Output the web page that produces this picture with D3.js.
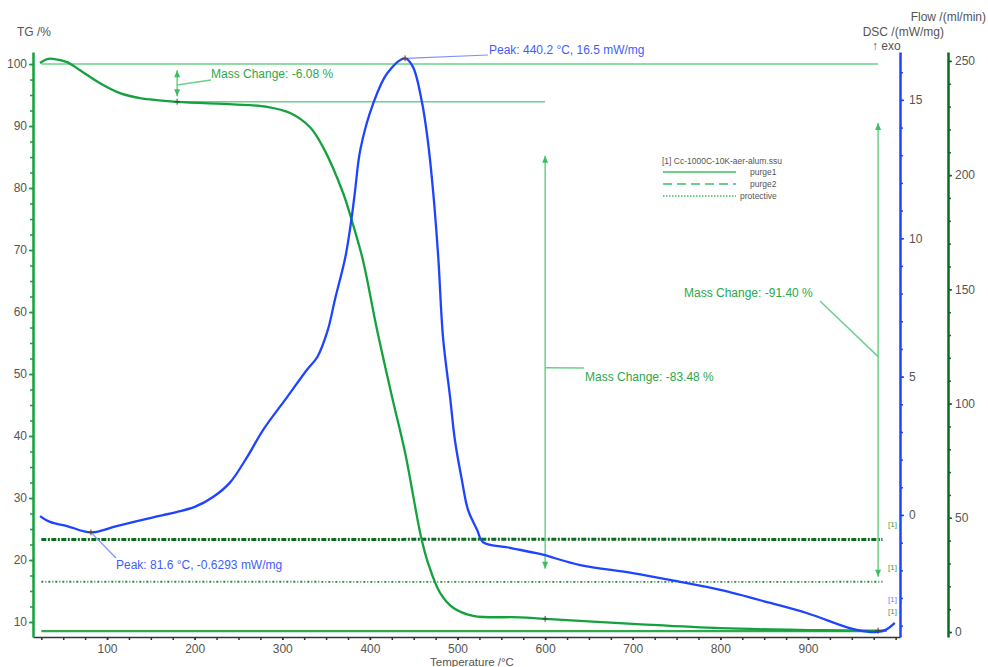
<!DOCTYPE html>
<html>
<head>
<meta charset="utf-8">
<script src="https://cdn.jsdelivr.net/npm/d3@7"></script>
<style>
  body { margin: 0; background: #fff; }
  svg { font-family: "Liberation Sans", Arial, sans-serif; }
  .tick text { fill: #555; font-size: 12px; }
</style>
</head>
<body>
<svg id="chart" width="988" height="667"></svg>
<script>
// TG curve (temperature °C, mass %)
const tgTemp = [23.5, 31.5, 40.6, 54.3, 69.2, 92, 114.8, 137.7, 180, 243.8, 282.6, 309, 331.7, 346.5, 369.4, 379.3, 392, 408.2, 425.3, 440.2, 458.4, 466.4, 480.1, 495, 517.8, 571.5, 600, 700, 800, 900, 971, 990];
const tgMass = [100.16, 100.8, 100.8, 100.3, 99.0, 96.9, 95.3, 94.5, 93.9, 93.5, 93.1, 92.1, 89.8, 86.6, 79.2, 74.8, 68.4, 57.1, 46.3, 37.3, 23.7, 19.5, 14.7, 12.3, 11.0, 10.75, 10.5, 9.7, 9.0, 8.7, 8.6, 8.6];

// DSC curve (mW/mg)
const dscTemp = [23.5, 34.9, 54.3, 81.6, 111, 149, 180, 200, 221, 240, 260, 278, 305.5, 328, 340, 352, 360, 372, 379.3, 383.2, 389, 404, 420, 440.2, 449, 459.6, 466, 472, 478, 483.5, 491.5, 497, 505, 512, 522.4, 529, 560, 594, 640, 700, 754, 800, 857, 900, 951, 971, 988, 999];
const dscValue = [-0.04, -0.25, -0.40, -0.63, -0.40, -0.11, 0.11, 0.29, 0.65, 1.16, 2.10, 3.07, 4.26, 5.24, 5.71, 6.69, 7.77, 9.32, 10.77, 11.75, 13.19, 14.89, 15.97, 16.5, 16.2, 14.89, 13.55, 11.75, 9.32, 6.40, 4.26, 2.71, 1.26, 0.18, -0.54, -0.98, -1.19, -1.41, -1.81, -2.10, -2.42, -2.71, -3.18, -3.56, -4.12, -4.23, -4.16, -3.90];

// gas flows (ml/min)
const flowTemp = [25, 300, 600, 985];
const purge1 = [0.4, 0.4, 0.4, 0.4];
const purge2 = [40.5, 40.5, 40.6, 40.5];
const protective = [22, 22, 21.9, 22];

// tick labels
const tempTicks = [100, 200, 300, 400, 500, 600, 700, 800, 900];
const tgTicks = [10, 20, 30, 40, 50, 60, 70, 80, 90, 100];
const dscTicks = [0, 5, 10, 15];
const flowTicks = [0, 50, 100, 150, 200, 250];

const legendTitle = "[1] Cc-1000C-10K-aer-alum.ssu";
const legendNames = ["purge1", "purge2", "protective"];

const green = "#13a23d", lightGreen = "#6cd089", blue = "#1f44ff", darkGreen = "#0b6b1f";

const svg = d3.select("#chart");

const x = d3.scaleLinear().domain([15.5, 1005]).range([33, 900]);
const yTG = d3.scaleLinear().domain([7.58, 101.94]).range([637, 52]);
const yDSC = d3.scaleLinear().domain([-4.41, 16.73]).range([637, 52]);
const yFlow = d3.scaleLinear().domain([-2.19, 253.9]).range([637, 52]);

// minor ticks go first, then majors with labels
const rangeStep = (a, b, s) => d3.range(a, b + s / 2, s);

// x axis
svg.append("g").attr("transform", "translate(0,637)")
  .call(d3.axisBottom(x).tickValues(rangeStep(25, 1000, 25)).tickSize(3).tickSizeOuter(0).tickFormat(""))
  .call(g => g.select(".domain").attr("stroke", "#333").attr("stroke-width", 1.5))
  .call(g => g.selectAll(".tick line").attr("stroke", "#333").attr("stroke-width", 1.5));
svg.append("g").attr("transform", "translate(0,637)")
  .call(d3.axisBottom(x).tickValues(tempTicks).tickSize(3).tickPadding(4).tickSizeOuter(0))
  .call(g => g.select(".domain").remove())
  .call(g => g.selectAll(".tick line").attr("stroke", "#333").attr("stroke-width", 1.5));

svg.append("text").attr("x", 472).attr("y", 666).attr("text-anchor", "middle")
  .attr("fill", "#555").attr("font-size", 11.5).text("Temperature /°C");

// TG axis (left)
svg.append("g").attr("transform", "translate(33,0)")
  .call(d3.axisLeft(yTG).tickValues(rangeStep(7.5, 100, 2.5).filter(v => v >= 7.58)).tickSize(3).tickSizeOuter(0).tickFormat(""))
  .call(g => g.select(".domain").attr("stroke", green).attr("stroke-width", 2.5))
  .call(g => g.selectAll(".tick line").attr("stroke", green).attr("stroke-width", 1.5));
svg.append("g").attr("transform", "translate(33,0)")
  .call(d3.axisLeft(yTG).tickValues(tgTicks).tickSize(4).tickPadding(2).tickSizeOuter(0))
  .call(g => g.select(".domain").remove())
  .call(g => g.selectAll(".tick line").attr("stroke", green).attr("stroke-width", 1.5));
svg.append("text").attr("x", 17).attr("y", 36).attr("fill", "#555").attr("font-size", 12).text("TG /%");

// DSC axis (right, blue)
svg.append("g").attr("transform", "translate(900,0)")
  .call(d3.axisRight(yDSC).tickValues(d3.range(-4, 17, 1)).tickSize(3).tickSizeOuter(0).tickFormat(""))
  .call(g => g.select(".domain").attr("stroke", blue).attr("stroke-width", 2.5))
  .call(g => g.selectAll(".tick line").attr("stroke", blue).attr("stroke-width", 1.5));
svg.append("g").attr("transform", "translate(900,0)")
  .call(d3.axisRight(yDSC).tickValues(dscTicks).tickSize(4).tickPadding(5).tickSizeOuter(0))
  .call(g => g.select(".domain").remove())
  .call(g => g.selectAll(".tick line").attr("stroke", blue).attr("stroke-width", 1.5));
svg.append("text").attr("x", 944).attr("y", 36).attr("text-anchor", "end").attr("fill", "#555").attr("font-size", 12).text("DSC /(mW/mg)");
svg.append("text").attr("x", 872).attr("y", 50).attr("fill", "#555").attr("font-size", 12).text("↑ exo");

// Flow axis (far right)
svg.append("g").attr("transform", "translate(948,0)")
  .call(d3.axisRight(yFlow).tickValues(d3.range(0, 251, 10)).tickSize(3).tickSizeOuter(0).tickFormat(""))
  .call(g => g.select(".domain").attr("stroke", darkGreen).attr("stroke-width", 2.5))
  .call(g => g.selectAll(".tick line").attr("stroke", darkGreen).attr("stroke-width", 1.5));
svg.append("g").attr("transform", "translate(948,0)")
  .call(d3.axisRight(yFlow).tickValues(flowTicks).tickSize(4).tickPadding(3).tickSizeOuter(0))
  .call(g => g.select(".domain").remove())
  .call(g => g.selectAll(".tick line").attr("stroke", darkGreen).attr("stroke-width", 1.5));
svg.append("text").attr("x", 986).attr("y", 21).attr("text-anchor", "end").attr("fill", "#555").attr("font-size", 12).text("Flow /(ml/min)");

// flow lines
const flowLine = yScale => d3.line().x(d => x(d[0])).y(d => yScale(d[1]));
const flows = [
  { name: "purge1", vals: purge1, color: "#2fa84c", width: 2.2, dash: null },
  { name: "purge2", vals: purge2, color: darkGreen, width: 3, dash: "5,1.5,2,1.5" },
  { name: "protective", vals: protective, color: "#2a8a3c", width: 1.8, dash: "2,2,1,2" }
];
flows.forEach(f => {
  svg.append("path")
    .datum(flowTemp.map((t, i) => [t, f.vals[i]]))
    .attr("d", flowLine(yFlow))
    .attr("fill", "none")
    .attr("stroke", f.color)
    .attr("stroke-width", f.width)
    .attr("stroke-dasharray", f.dash);
});

// mass change annotation lines
const ann = svg.append("g").attr("stroke", lightGreen).attr("stroke-width", 1.5).attr("fill", "none");
ann.append("line").attr("x1", x(25)).attr("x2", x(980)).attr("y1", yTG(100)).attr("y2", yTG(100));
ann.append("line").attr("x1", x(180)).attr("x2", x(600)).attr("y1", yTG(93.92)).attr("y2", yTG(93.92));

const arrowHead = (px, py, dir) => {
  // dir = -1 pointing up, 1 pointing down
  svg.append("path")
    .attr("d", `M${px - 3},${py - dir * 7} L${px},${py} L${px + 3},${py - dir * 7} Z`)
    .attr("fill", "#3cbf62");
};
const vArrow = (t, top, bottom) => {
  ann.append("line").attr("x1", x(t)).attr("x2", x(t)).attr("y1", yTG(top)).attr("y2", yTG(bottom));
  arrowHead(x(t), yTG(top), -1);
  arrowHead(x(t), yTG(bottom), 1);
};
vArrow(180, 99.0, 94.8);
vArrow(600, 85.2, 18.6);
vArrow(980, 90.5, 17.3);

// leaders + labels for mass change
const massLabels = [
  { t: 180, v: 96.6, lx: 211, ly: 80, text: "Mass Change: -6.08 %" },
  { t: 600, v: 51.0, lx: 584, ly: 368, text: "Mass Change: -83.48 %" },
  { t: 980, v: 52.8, lx: 820, ly: 301, text: "Mass Change: -91.40 %" }
];
massLabels.forEach(m => {
  ann.append("line").attr("x1", x(m.t)).attr("y1", yTG(m.v)).attr("x2", m.lx).attr("y2", m.ly);
});
svg.append("text").attr("x", 211).attr("y", 78).attr("fill", "#2aa84a").attr("font-size", 12).text(massLabels[0].text);
svg.append("text").attr("x", 585).attr("y", 381).attr("fill", "#2aa84a").attr("font-size", 12).text(massLabels[1].text);
svg.append("text").attr("x", 684).attr("y", 297).attr("fill", "#2aa84a").attr("font-size", 12).text(massLabels[2].text);

// TG curve
svg.append("path")
  .datum(tgTemp.map((t, i) => [t, tgMass[i]]))
  .attr("d", d3.line().x(d => x(d[0])).y(d => yTG(d[1])).curve(d3.curveCatmullRom.alpha(0.5)))
  .attr("fill", "none").attr("stroke", green).attr("stroke-width", 2.3);

// DSC curve
svg.append("path")
  .datum(dscTemp.map((t, i) => [t, dscValue[i]]))
  .attr("d", d3.line().x(d => x(d[0])).y(d => yDSC(d[1])).curve(d3.curveCatmullRom.alpha(0.5)))
  .attr("fill", "none").attr("stroke", blue).attr("stroke-width", 2.3);

// peak leaders
const peaks = [
  { t: 440.2, v: 16.5, lx: 488, ly: 55, tx: 489, ty: 54, text: "Peak: 440.2 °C, 16.5 mW/mg" },
  { t: 81.6, v: -0.6293, lx: 116, ly: 558, tx: 116, ty: 569, text: "Peak: 81.6 °C, -0.6293 mW/mg" }
];
peaks.forEach(p => {
  svg.append("line").attr("x1", x(p.t)).attr("y1", yDSC(p.v)).attr("x2", p.lx).attr("y2", p.ly)
    .attr("stroke", "#7e8fff").attr("stroke-width", 1.2);
  svg.append("text").attr("x", p.tx).attr("y", p.ty).attr("fill", "#3f5cff").attr("font-size", 12).text(p.text);
});

// small cross markers
const cross = (px, py) => {
  svg.append("path").attr("d", `M${px - 3},${py} H${px + 3} M${px},${py - 3} V${py + 3}`)
    .attr("stroke", "#444").attr("stroke-width", 1);
};
cross(x(180), yTG(93.92));
cross(x(600), yTG(10.5));
cross(x(980), yTG(8.6));
cross(x(440.2), yDSC(16.5));
cross(x(81.6), yDSC(-0.6293));

// [1] curve tags at the right end
const tags = [
  { y: 527, color: "#3a9a4c" },
  { y: 570, color: "#3a9a4c" },
  { y: 602, color: "#6a7cff" },
  { y: 614, color: "#3a9a4c" }
];
tags.forEach(tg => {
  svg.append("text").attr("x", 888).attr("y", tg.y).attr("fill", tg.color).attr("font-size", 8).text("[1]");
});

// legend
const legend = svg.append("g").attr("transform", "translate(662,0)");
legend.append("text").attr("x", 0).attr("y", 164).attr("fill", "#555").attr("font-size", 8.5).text(legendTitle);
const legendDash = [null, "9,5", "1.5,1.5"];
const legendX = [88, 88, 78];
legendNames.forEach((n, i) => {
  const ly = 172 + i * 12;
  legend.append("line").attr("x1", 1).attr("x2", 74).attr("y1", ly).attr("y2", ly)
    .attr("stroke", lightGreen).attr("stroke-width", 1.8).attr("stroke-dasharray", legendDash[i]);
  legend.append("text").attr("x", legendX[i]).attr("y", ly + 3).attr("fill", "#555").attr("font-size", 8.5).text(n);
});
</script>
</body>
</html>
